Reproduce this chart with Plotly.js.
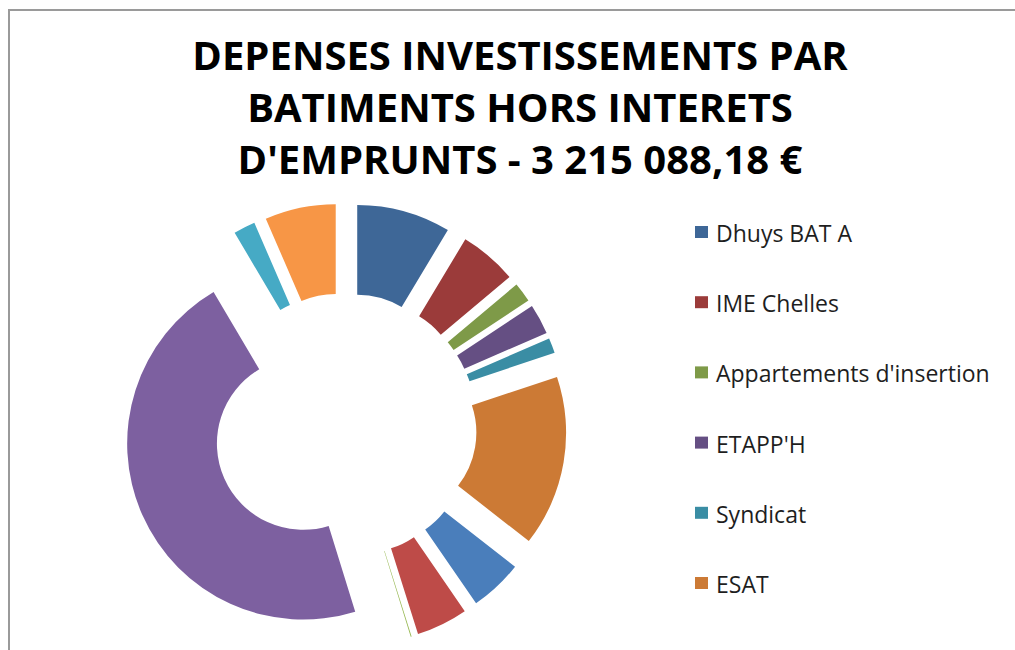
<!DOCTYPE html>
<html>
<head>
<meta charset="utf-8">
<script src="https://cdn.plot.ly/plotly-3.0.1.min.js"></script>
<style>html,body{margin:0;padding:0;background:#fff;}#chart{width:1015px;height:650px;}</style>
</head>
<body>
<div id="chart"></div>
<script>
// Catégories (les 6 dernières ne sont pas nommées dans la légende de l'original)
const categories = [
  "Dhuys BAT A", "IME Chelles", "Appartements d'insertion", "ETAPP'H", "Syndicat", "ESAT",
  "Autre 7", "Autre 8", "Autre 9", "Autre 10", "Autre 11", "Autre 12"
];
// Montants estimés (€), total 3 215 088,18 €
const montants = [276800, 169700, 58000, 89300, 44700, 504600, 156300, 151800, 2700, 1487888, 64300, 209000];
const couleurs = [
  "#3E6797", "#9B3B3A", "#7E9A48", "#654F83", "#3A8DA4", "#CC7A35",
  "#4A7EBB", "#BE4B48", "#98B954", "#7D60A0", "#46AAC5", "#F79646"
];
const legendeVisible = 6;
const titre = "DEPENSES INVESTISSEMENTS PAR<br>BATIMENTS HORS INTERETS<br>D'EMPRUNTS - 3 215 088,18 €";

const W = 1015, H = 650;
const px = x => x / W;
const py = y => 1 - y / H;

// pie geometry
const cx = 345, cy = 425, R = 176, pull = 0.26;
const half = R * (1 + pull);

const trace = {
  type: "pie",
  labels: categories,
  values: montants,
  marker: { colors: couleurs, line: { width: 0 } },
  hole: 0.49,
  pull: pull,
  sort: false,
  direction: "clockwise",
  rotation: 0,
  textinfo: "none",
  hoverinfo: "label+value+percent",
  showlegend: false,
  domain: { x: [px(cx - half), px(cx + half)], y: [py(cy + half), py(cy - half)] }
};

const shapes = [
  { type: "line", xref: "paper", yref: "paper", x0: px(8), x1: px(1015), y0: py(10), y1: py(10), line: { color: "#9a9a9a", width: 2 } },
  { type: "line", xref: "paper", yref: "paper", x0: px(9), x1: px(9), y0: py(9), y1: py(650), line: { color: "#9a9a9a", width: 2 } }
];
const annotations = [];
const legendY0 = 232, legendStep = 70.2;
for (let i = 0; i < legendeVisible; i++) {
  const yc = legendY0 + i * legendStep;
  shapes.push({
    type: "rect", xref: "paper", yref: "paper",
    x0: px(695), x1: px(708), y0: py(yc + 6), y1: py(yc - 6),
    fillcolor: couleurs[i], line: { width: 0 }
  });
  annotations.push({
    xref: "paper", yref: "paper", x: px(714), y: py(yc + 1), xanchor: "left", yanchor: "middle",
    text: categories[i], showarrow: false,
    font: { family: "Open Sans", size: 23, color: "#1e1e1e" }
  });
}

const layout = {
  width: W, height: H,
  margin: { l: 0, r: 0, t: 0, b: 0 },
  paper_bgcolor: "#ffffff",
  title: {
    text: titre,
    x: px(520), xanchor: "center",
    y: py(70), yanchor: "top", yref: "container",
    font: { family: "Open Sans", size: 40, color: "#000000", weight: 700 }
  },
  showlegend: false,
  shapes: shapes,
  annotations: annotations
};

Plotly.newPlot("chart", [trace], layout, { displayModeBar: false });
</script>
</body>
</html>
